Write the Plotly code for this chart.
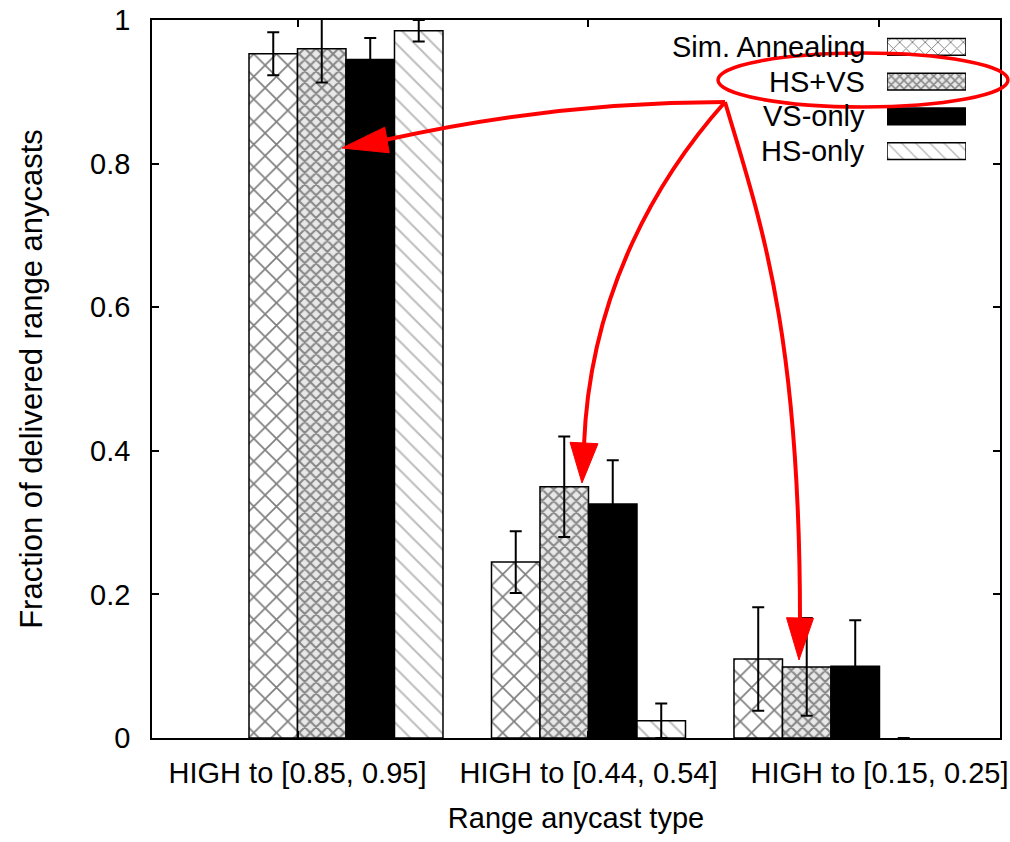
import plotly.graph_objects as go

# ---- data -------------------------------------------------------------
categories = ["HIGH to [0.85, 0.95]", "HIGH to [0.44, 0.54]", "HIGH to [0.15, 0.25]"]
series_names = ["Sim. Annealing", "HS+VS", "VS-only", "HS-only"]

sim_annealing = [0.953, 0.245, 0.110]
sim_annealing_err = [0.030, 0.043, 0.072]

hs_vs = [0.960, 0.350, 0.099]
hs_vs_err = [0.047, 0.070, 0.068]

vs_only = [0.945, 0.326, 0.100]
vs_only_err = [0.030, 0.061, 0.064]

hs_only = [0.985, 0.024, 0.0]
hs_only_err = [0.015, 0.024, 0.0]

y_ticks = [0, 0.2, 0.4, 0.6, 0.8, 1]
y_tick_text = ["0", "0.2", "0.4", "0.6", "0.8", "1"]

# ---- layout constants --------------------------------------------------
W, H = 1010, 842
ML, MR, MT, MB = 152, 10, 20, 104
PW, PH = W - ML - MR, H - MT - MB
FONT = "Liberation Sans, Arial, Helvetica, sans-serif"
RED = "#ff0000"

def px(xp):
    return (xp - ML) / PW

def py(yp):
    return (H - MB - yp) / PH

cluster = list(range(len(categories)))
label_pos = [-0.2, 1.0, 2.2]

styles = {
    "Sim. Annealing": dict(color="white", pattern=dict(shape="x", size=16, solidity=0.2,
                                                       fgcolor="black", bgcolor="white")),
    "HS+VS": dict(color="white", pattern=dict(shape="x", size=8, solidity=0.45,
                                              fgcolor="#262626", bgcolor="#e8e8e8")),
    "VS-only": dict(color="black"),
    "HS-only": dict(color="white", pattern=dict(shape="\\", size=13, solidity=0.15,
                                                fgcolor="#7a7a7a", bgcolor="white")),
}
legend_sizes = {"Sim. Annealing": 9, "HS+VS": 6, "HS-only": 10}

values = [sim_annealing, hs_vs, vs_only, hs_only]
errors = [sim_annealing_err, hs_vs_err, vs_only_err, hs_only_err]

fig = go.Figure()

for name, vals, errs in zip(series_names, values, errors):
    st = styles[name]
    # a zero-height bar leaves no outline and no error bar on the axis
    outline = [1.5 if v > 0 else 0 for v in vals]
    err_shown = [e if v > 0 else None for v, e in zip(vals, errs)]
    marker = dict(color=st["color"], line=dict(color="black", width=outline))
    if "pattern" in st:
        marker["pattern"] = st["pattern"]
    fig.add_trace(go.Bar(
        x=cluster, y=vals, name=name, marker=marker, showlegend=False,
        error_y=dict(type="data", array=err_shown, symmetric=True, color="black",
                     thickness=2, width=6),
    ))

# key: swatches drawn as small bars on their own axes, text to the left
for i, name in enumerate(series_names):
    st = styles[name]
    marker = dict(color=st["color"], line=dict(color="black", width=1.5))
    if "pattern" in st:
        pat = dict(st["pattern"])
        pat["size"] = legend_sizes[name]
        marker["pattern"] = pat
    fig.add_trace(go.Bar(
        x=[1], y=[i], base=0, orientation="h", width=0.48, marker=marker,
        xaxis="x3", yaxis="y3", showlegend=False, hoverinfo="skip",
    ))

annotations = []
for i, name in enumerate(series_names):
    annotations.append(dict(
        text=name, x=px(867), xref="paper", y=i, yref="y3",
        xanchor="right", yanchor="middle", showarrow=False,
        font=dict(family=FONT, size=29, color="black"),
    ))

# ---- red callouts ------------------------------------------------------
shapes = []
shapes.append(dict(type="circle", xref="paper", yref="paper",
                   x0=px(718), x1=px(1008), y0=py(107), y1=py(53),
                   line=dict(color=RED, width=3.5)))

def pth(points, cmd):
    s = "M {},{}".format(px(points[0][0]), py(points[0][1]))
    s += " " + cmd + " " + " ".join("{},{}".format(px(a), py(b)) for a, b in points[1:])
    return s

hub = (725, 102)
curves = [
    ("Q", [hub, (555, 102), (385, 140)]),
    ("C", [hub, (660, 175), (590, 290), (584, 445)]),
    ("C", [hub, (760, 220), (800, 330), (800, 620)]),
]
for cmd, pts in curves:
    shapes.append(dict(type="path", xref="paper", yref="paper", path=pth(pts, cmd),
                       line=dict(color=RED, width=4)))

def head(tip, base_c, half_w):
    tx, ty = tip
    bx, by = base_c
    dx, dy = tx - bx, ty - by
    n = (dx * dx + dy * dy) ** 0.5
    nx, ny = -dy / n, dx / n
    p1 = (bx + nx * half_w, by + ny * half_w)
    p2 = (bx - nx * half_w, by - ny * half_w)
    return "M {},{} L {},{} L {},{} Z".format(px(tx), py(ty), px(p1[0]), py(p1[1]),
                                               px(p2[0]), py(p2[1]))

for tip, base_c, hw in [((342, 148), (387, 140), 13),
                        ((582, 483), (584, 443), 14),
                        ((799, 660), (800, 618), 13.5)]:
    shapes.append(dict(type="path", xref="paper", yref="paper", path=head(tip, base_c, hw),
                       fillcolor=RED, line=dict(color=RED, width=1)))

fig.update_layout(
    width=W, height=H,
    margin=dict(l=ML, r=MR, t=MT, b=MB, pad=0, autoexpand=False),
    paper_bgcolor="white", plot_bgcolor="white",
    barmode="group", bargap=0.2, bargroupgap=0,
    font=dict(family=FONT, size=29, color="black"),
    xaxis=dict(
        range=[-0.8, 2.697], tickmode="array", tickvals=label_pos, ticktext=categories,
        ticks="inside", ticklen=7, tickwidth=1.5, tickcolor="black",
        showline=True, linecolor="black", linewidth=1.5, mirror="ticks",
        showgrid=False, zeroline=False, ticklabelstandoff=8, automargin=False,
        tickfont=dict(family=FONT, size=29),
        title=dict(text="Range anycast type", font=dict(family=FONT, size=29), standoff=20),
    ),
    yaxis=dict(
        range=[0, 1], tickmode="array", tickvals=y_ticks, ticktext=y_tick_text,
        ticks="inside", ticklen=7, tickwidth=1.5, tickcolor="black",
        showline=True, linecolor="black", linewidth=1.5, mirror="ticks",
        showgrid=False, zeroline=False, ticklabelstandoff=14, automargin=False,
        tickfont=dict(family=FONT, size=29),
        title=dict(text="Fraction of delivered range anycasts",
                   font=dict(family=FONT, size=31), standoff=38),
    ),
    xaxis3=dict(domain=[px(887), px(966)], range=[0, 1], anchor="y3",
                visible=False, fixedrange=True),
    yaxis3=dict(domain=[py(168.5), py(29.5)], range=[3.5, -0.5], anchor="x3",
                visible=False, fixedrange=True),
    annotations=annotations,
    shapes=shapes,
)

fig.write_html("out.html")
